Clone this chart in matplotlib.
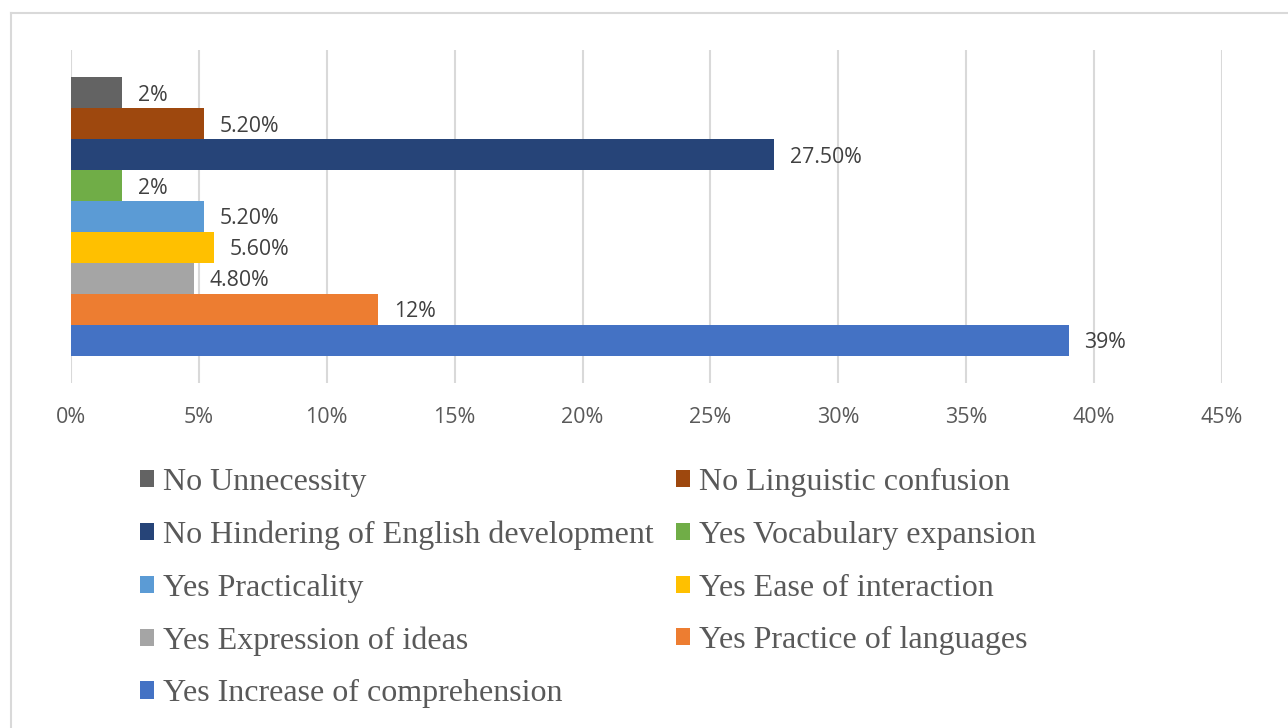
import matplotlib
matplotlib.use("Agg")
import matplotlib.pyplot as plt
from matplotlib.lines import Line2D
from matplotlib.ticker import MultipleLocator, FuncFormatter

# Survey responses (share of respondents, %)
labels = [
    "No Unnecessity",
    "No Linguistic confusion",
    "No Hindering of English development",
    "Yes Vocabulary expansion",
    "Yes Practicality",
    "Yes Ease of interaction",
    "Yes Expression of ideas",
    "Yes Practice of languages",
    "Yes Increase of comprehension",
]
values = [2.0, 5.2, 27.5, 2.0, 5.2, 5.6, 4.8, 12.0, 39.0]
value_text = ["2%", "5.20%", "27.50%", "2%", "5.20%", "5.60%", "4.80%", "12%", "39%"]
colors = ["#636363", "#9E480E", "#264478", "#70AD47", "#5B9BD5",
          "#FFC000", "#A5A5A5", "#ED7D31", "#4472C4"]

fig = plt.figure(figsize=(12.88, 7.28), dpi=100)
ax = fig.add_axes([71 / 1288, 1 - 383 / 728, (1222 - 71) / 1288, (383 - 50) / 728])

bars = []
for i, (lab, v, c) in enumerate(zip(labels, values, colors)):
    b = ax.barh(i, v, height=1.0, color=c, label=lab, zorder=3)
    bars.append(b)
    ax.text(v + 0.62, i + 0.08, value_text[i], va="center", ha="left",
            fontsize=15.3, family="Open Sans", color="#404040", zorder=4)

ax.set_xlim(0, 45)
ax.set_ylim(len(values) - 0.5 + 0.89, -0.5 - 0.89)
ax.xaxis.set_major_locator(MultipleLocator(5))
ax.xaxis.set_major_formatter(FuncFormatter(lambda x, _: f"{x:.0f}%"))
ax.set_yticks([])
ax.grid(axis="x", color="#D9D9D9", linewidth=1.5, zorder=0)
for s in ax.spines.values():
    s.set_visible(False)
ax.tick_params(axis="x", length=0, pad=17, labelsize=15.5, labelcolor="#595959")
for t in ax.get_xticklabels():
    t.set_family("Open Sans")

# Two-column legend filled row by row
order = [0, 2, 4, 6, 8, 1, 3, 5, 7]
handles = [bars[i] for i in order]
leg_labels = [labels[i] for i in order]
leg = fig.legend(handles, leg_labels, ncol=2, loc="upper left",
                 bbox_to_anchor=(127 / 1288, 1 - 455 / 728),
                 frameon=False, prop={"family": "Liberation Serif", "size": 23},
                 handlelength=0.45, handleheight=0.45, handletextpad=0.28,
                 columnspacing=0.68, labelspacing=0.74, borderaxespad=0)
for t in leg.get_texts():
    t.set_color("#595959")

# Chart area frame (left and top edges)
fig.add_artist(Line2D([11 / 1288, 11 / 1288], [0, 1 - 13 / 728],
                      transform=fig.transFigure, color="#D9D9D9", linewidth=1.5))
fig.add_artist(Line2D([11 / 1288, 1], [1 - 13 / 728, 1 - 13 / 728],
                      transform=fig.transFigure, color="#D9D9D9", linewidth=1.5))

fig.savefig("out.png", dpi=100, facecolor="white")
